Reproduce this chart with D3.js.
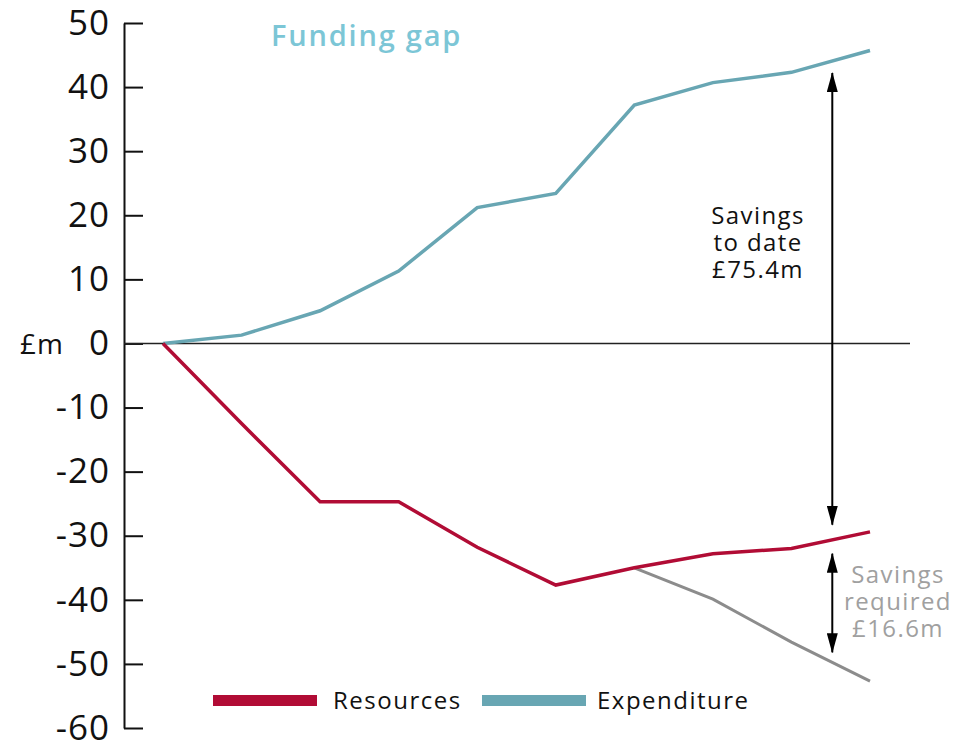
<!DOCTYPE html>
<html>
<head>
<meta charset="utf-8">
<script src="https://cdn.jsdelivr.net/npm/d3@7"></script>
<style>
  body { margin: 0; background: #fff; }
  svg text { font-family: "Open Sans", sans-serif; }
</style>
</head>
<body>
<div id="chart"></div>
<script>
// periods (no labels shown on the x axis)
const periods = [0, 1, 2, 3, 4, 5, 6, 7, 8, 9];
const expenditure = [0, 1.3, 5.1, 11.3, 21.2, 23.4, 37.2, 40.7, 42.3, 45.7];
const resources = [0, -12.5, -24.7, -24.7, -31.8, -37.7, -35.0, -32.8, -32.0, -29.4];
// projected resources without further savings
const projectedPeriods = [6, 7, 8, 9];
const projected = [-35.0, -39.9, -46.6, -52.7];
const yTicks = [50, 40, 30, 20, 10, 0, -10, -20, -30, -40, -50, -60];
const seriesNames = ['Resources', 'Expenditure'];
const savedRange = [42.2, -28.3];
const requiredRange = [-32.8, -48.2];
const arrowPeriod = 8.52;

const width = 970, height = 744;
const colors = { Resources: '#b10c35', Expenditure: '#68a6b3' };

const svg = d3.select('#chart').append('svg')
    .attr('width', width)
    .attr('height', height);

const x = d3.scaleLinear().domain([0, 9]).range([163, 870]);
const y = d3.scaleLinear().domain([-60, 50]).range([728, 23]);

// y axis, ticks pointing into the plot
const yAxis = svg.append('g')
    .attr('transform', 'translate(124,0)')
    .call(d3.axisLeft(y)
        .tickValues(yTicks)
        .tickFormat(d => String(d))
        .tickSize(-19).tickSizeOuter(0).tickPadding(14));
yAxis.select('.domain').attr('stroke', '#111').attr('stroke-width', 2);
yAxis.selectAll('.tick line').attr('stroke', '#111').attr('stroke-width', 2);
yAxis.selectAll('.tick text')
    .attr('font-size', 35)
    .attr('fill', '#111')
    .style('letter-spacing', '1px')
    .style('font-family', '"Open Sans", sans-serif');

svg.append('text')
    .attr('x', 20)
    .attr('y', y(0) + 11)
    .attr('font-size', 28)
    .attr('fill', '#111')
    .style('letter-spacing', '1px')
    .text('£m');

// zero line
svg.append('line')
    .attr('x1', 124).attr('x2', 910)
    .attr('y1', y(0)).attr('y2', y(0))
    .attr('stroke', '#222')
    .attr('stroke-width', 1.5);

const line = d3.line()
    .x(d => x(d[0]))
    .y(d => y(d[1]));

svg.append('path')
    .datum(projectedPeriods.map((p, i) => [p, projected[i]]))
    .attr('fill', 'none')
    .attr('stroke', '#8c8c8c')
    .attr('stroke-width', 3)
    .attr('d', line);

svg.append('path')
    .datum(periods.map((p, i) => [p, expenditure[i]]))
    .attr('fill', 'none')
    .attr('stroke', colors.Expenditure)
    .attr('stroke-width', 3.5)
    .attr('d', line);

svg.append('path')
    .datum(periods.map((p, i) => [p, resources[i]]))
    .attr('fill', 'none')
    .attr('stroke', colors.Resources)
    .attr('stroke-width', 3.5)
    .attr('d', line);

// arrow heads
const defs = svg.append('defs');
defs.append('marker')
    .attr('id', 'head')
    .attr('viewBox', '0 0 20 11')
    .attr('refX', 19).attr('refY', 5.5)
    .attr('markerWidth', 20).attr('markerHeight', 11)
    .attr('markerUnits', 'userSpaceOnUse')
    .attr('orient', 'auto-start-reverse')
    .append('path')
    .attr('d', 'M0,0 L20,5.5 L0,11 Z')
    .attr('fill', '#000');

[savedRange, requiredRange].forEach(r => {
    svg.append('line')
        .attr('x1', x(arrowPeriod)).attr('x2', x(arrowPeriod))
        .attr('y1', y(r[0])).attr('y2', y(r[1]))
        .attr('stroke', '#000')
        .attr('stroke-width', 2)
        .attr('marker-start', 'url(#head)')
        .attr('marker-end', 'url(#head)');
});

function multiline(lines, cx, y0, color) {
    lines.forEach((s, i) => {
        svg.append('text')
            .attr('x', cx)
            .attr('y', y0 + i * 27)
            .attr('text-anchor', 'middle')
            .attr('font-size', 24)
            .attr('fill', color)
            .style('letter-spacing', '1.4px')
            .text(s);
    });
}
multiline(['Savings', 'to date', '£75.4m'], 758, 224, '#111');
multiline(['Savings', 'required', '£16.6m'], 898, 583, '#a0a0a0');

svg.append('text')
    .attr('x', 271)
    .attr('y', 46)
    .attr('font-size', 29)
    .attr('font-weight', 600)
    .attr('fill', '#7cc6d6')
    .style('letter-spacing', '1.8px')
    .text('Funding gap');

// legend
const legendX = [213, 482];
const legendTextX = [333, 597];
seriesNames.forEach((name, i) => {
    svg.append('rect')
        .attr('x', legendX[i]).attr('y', 695)
        .attr('width', 104).attr('height', 11)
        .attr('fill', colors[name]);
    svg.append('text')
        .attr('x', legendTextX[i])
        .attr('y', 709)
        .attr('font-size', 24)
        .attr('fill', '#111')
        .style('letter-spacing', '1.5px')
        .text(name);
});
</script>
</body>
</html>
